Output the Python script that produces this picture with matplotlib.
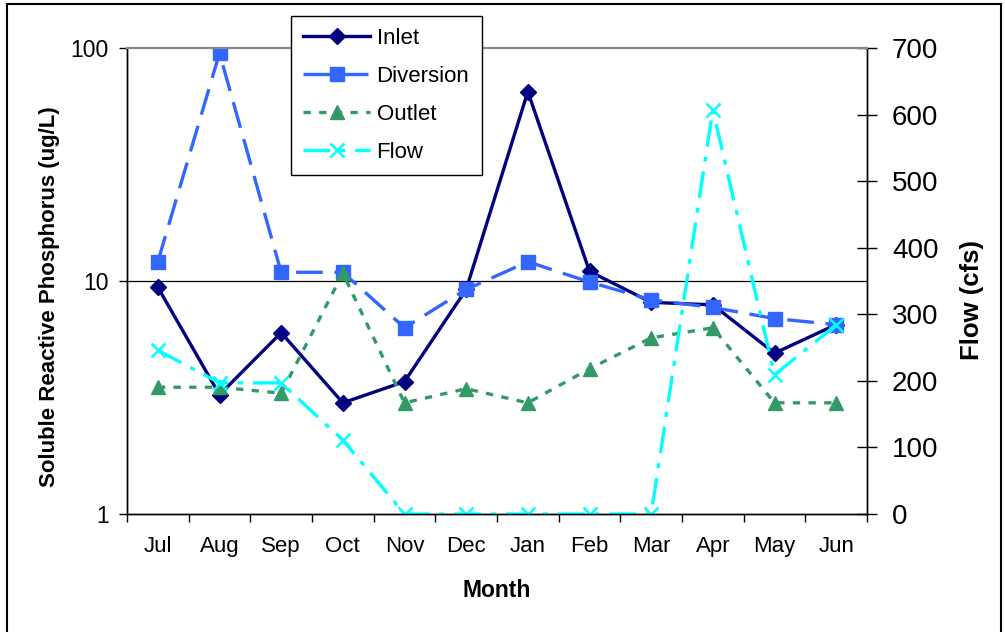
import numpy as np
import matplotlib.pyplot as plt
from matplotlib.patches import Rectangle

plt.rcParams['font.family'] = ['Liberation Sans', 'DejaVu Sans']

months = ["Jul", "Aug", "Sep", "Oct", "Nov", "Dec", "Jan", "Feb", "Mar", "Apr", "May", "Jun"]
inlet = [9.4, 3.25, 6.0, 3.0, 3.7, 9.2, 65, 11.0, 8.1, 7.9, 4.9, 6.5]
diversion = [12.1, 95, 10.9, 10.9, 6.3, 9.2, 12.1, 9.9, 8.3, 7.7, 6.9, 6.5]
outlet = [3.5, 3.5, 3.3, 10.8, 3.0, 3.45, 3.0, 4.2, 5.7, 6.3, 3.0, 3.0]
flow = [246, 197, 197, 111, 0, 0, 0, 0, 0, 607, 209, 284]

x = np.arange(len(months))

fig = plt.figure(figsize=(10.05, 6.32), dpi=100)
ax = fig.add_axes([127/1005, 1 - 514/632, 740/1005, 466/632])
ax2 = ax.twinx()

# figure border (bottom edge runs off the picture)
fig.patches.append(Rectangle((7/1005, -0.05), 994/1005, 1.05 - 4/632, transform=fig.transFigure,
                             fill=False, edgecolor='black', linewidth=1.5))

l1, = ax.plot(x, inlet, color='#000080', lw=2.4, marker='D', ms=8, label='Inlet')
l2, = ax.plot(x, diversion, color='#3366FF', lw=2.4, ls=(0, (8, 3.5)), marker='s', ms=9.5, label='Diversion')
l3, = ax.plot(x, outlet, color='#339966', lw=2.4, ls=(0, (2.2, 2.5)), marker='^', ms=9.5, label='Outlet')
l4, = ax2.plot(x, flow, color='#00FFFF', lw=2.4, ls=(0, (8, 3, 1.5, 3)), marker='x', ms=10, mew=1.8, label='Flow')

ax.set_yscale('log')
ax.set_ylim(1, 100)
ax.set_xlim(-0.5, 11.5)
ax2.set_ylim(0, 700)
ax2.set_yticks(np.arange(0, 701, 100))

ax.set_yticks([1, 10, 100])
ax.set_yticklabels(['1', '10', '100'])
ax.yaxis.set_minor_locator(plt.NullLocator())
ax.axhline(10, color='black', lw=0.9, zorder=0)

ax.set_xticks(x)
ax.set_xticklabels(months)
ax.set_xticks(np.arange(-0.5, 12, 1), minor=True)
ax.tick_params(axis='x', which='major', length=0, pad=16, labelsize=16)
ax.tick_params(axis='x', which='minor', length=6, direction='out', width=1)
ax.tick_params(axis='y', which='major', length=6, direction='out', width=1, labelsize=16.5, pad=7)
ax2.tick_params(axis='y', length=14, direction='inout', width=1, labelsize=20, pad=11)

for a in (ax, ax2):
    a.spines['top'].set_color('#888888')
    a.spines['top'].set_linewidth(1.5)
    a.spines['left'].set_linewidth(1.0)
    a.spines['right'].set_linewidth(1.0)
    a.spines['bottom'].set_linewidth(1.0)

ax.set_xlabel('Month', fontweight='bold', fontsize=16.5, labelpad=16)
ax.set_ylabel('Soluble Reactive Phosphorus (ug/L)', fontweight='bold', fontsize=16)
ax.yaxis.set_label_coords(60/1005, 1 - 297/632, transform=fig.transFigure)
ax2.set_ylabel('Flow (cfs)', fontweight='bold', fontsize=18.5)
ax2.yaxis.set_label_coords(960/1005, 1 - 300/632, transform=fig.transFigure)

leg = ax2.legend(handles=[l1, l2, l3, l4], loc='upper left', bbox_to_anchor=(291/1005, 1 - 16/632),
                 bbox_transform=fig.transFigure, frameon=True, fancybox=False, framealpha=1,
                 edgecolor='black', fontsize=16, handlelength=3.0, labelspacing=0.76,
                 borderpad=0.55, handletextpad=0.3, borderaxespad=0)
leg.get_frame().set_linewidth(1.0)

fig.savefig('out.png', dpi=100)
